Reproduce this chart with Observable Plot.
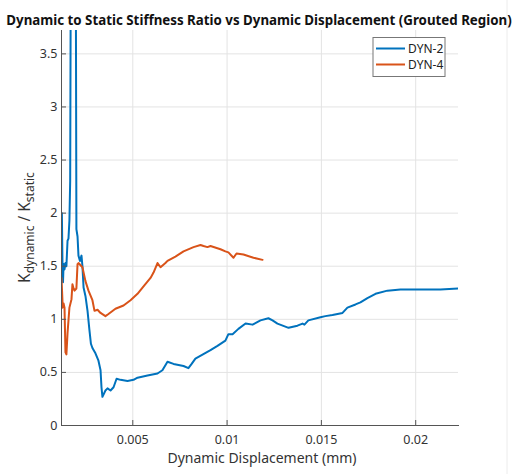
<!DOCTYPE html>
<html><head><meta charset="utf-8">
<script src="https://cdn.jsdelivr.net/npm/d3@7"></script>
<script src="https://cdn.jsdelivr.net/npm/@observablehq/plot@0.6"></script>
<style>body{margin:0;background:#fff;} svg{font-family:"Noto Sans",sans-serif;}</style>
</head><body><div id="chart"></div>
<script>
const seriesNames = ["DYN-2", "DYN-4"];
const seriesColors = ["#0072BD", "#D95319"];
const dyn2X = [0.00121,0.00124,0.00127,0.00130,0.00133,0.00138,0.00143,0.00148,0.00154,0.00159,0.00164,0.00168,0.00171,0.00180,0.00191,0.00198,0.00201,0.00207,0.00212,0.00220,0.00228,0.00233,0.00239,0.00249,0.00260,0.00270,0.00278,0.00286,0.00302,0.00318,0.00329,0.00334,0.00339,0.00355,0.00366,0.00382,0.00398,0.00414,0.00435,0.00472,0.00504,0.00525,0.00578,0.00631,0.00657,0.00684,0.00716,0.00769,0.00795,0.00812,0.00832,0.00912,0.00949,0.00991,0.01007,0.01029,0.01060,0.01098,0.01135,0.01177,0.01219,0.01241,0.01267,0.01326,0.01373,0.01400,0.01410,0.01431,0.01495,0.01521,0.01559,0.01612,0.01638,0.01681,0.01707,0.01744,0.01787,0.01850,0.01919,0.02009,0.02131,0.02227];
const dyn2Y = [1.65,2.00,1.55,1.35,1.52,1.47,1.53,1.50,1.74,1.76,1.93,2.30,4.2,6,6,4.2,1.85,1.78,1.60,1.55,1.60,1.50,1.30,1.22,1.08,0.90,0.77,0.73,0.68,0.61,0.52,0.36,0.27,0.33,0.35,0.33,0.36,0.44,0.43,0.42,0.43,0.45,0.47,0.49,0.52,0.60,0.58,0.56,0.54,0.58,0.63,0.71,0.75,0.80,0.86,0.86,0.91,0.96,0.95,0.99,1.01,0.99,0.96,0.92,0.94,0.96,0.95,0.99,1.02,1.03,1.04,1.06,1.11,1.14,1.16,1.20,1.24,1.27,1.28,1.28,1.28,1.29];
const dyn4X = [0.00122,0.00127,0.00128,0.00133,0.00138,0.00143,0.00148,0.00154,0.00159,0.00164,0.00175,0.00180,0.00186,0.00191,0.00201,0.00207,0.00212,0.00233,0.00249,0.00265,0.00286,0.00297,0.00313,0.00329,0.00355,0.00371,0.00408,0.00451,0.00488,0.00525,0.00557,0.00594,0.00610,0.00631,0.00647,0.00673,0.00684,0.00726,0.00769,0.00822,0.00859,0.00875,0.00896,0.00912,0.00965,0.00991,0.01007,0.01034,0.01050,0.01087,0.01140,0.01188];
const dyn4Y = [1.39,1.18,1.11,1.15,1.11,0.69,0.67,0.87,0.99,1.11,1.19,1.33,1.29,1.27,1.29,1.52,1.53,1.49,1.36,1.27,1.18,1.08,1.09,1.06,1.03,1.05,1.10,1.13,1.18,1.24,1.31,1.39,1.44,1.53,1.49,1.53,1.55,1.59,1.64,1.68,1.70,1.69,1.68,1.69,1.66,1.64,1.63,1.58,1.62,1.61,1.58,1.56];
const xTicks = [0.005, 0.01, 0.015, 0.02];
const xTickLabels = ["0.005", "0.01", "0.015", "0.02"];
const yTicks = [0, 0.5, 1, 1.5, 2, 2.5, 3, 3.5];
const yTickLabels = ["0", "0.5", "1", "1.5", "2", "2.5", "3", "3.5"];
const xDomain = [0.00122, 0.02227];
const yDomain = [0, 3.72];
const titleText = "Dynamic to Static Stiffness Ratio vs Dynamic Displacement (Grouted Region)";
const xLabelText = "Dynamic Displacement (mm)";

const data = [
  ...dyn2X.map((x, i) => ({x, y: dyn2Y[i], s: seriesNames[0]})),
  ...dyn4X.map((x, i) => ({x, y: dyn4Y[i], s: seriesNames[1]}))
];

const xFmt = d => xTickLabels[xTicks.findIndex(t => Math.abs(t - d) < 1e-9)];
const yFmt = d => yTickLabels[yTicks.findIndex(t => Math.abs(t - d) < 1e-9)];

const ML = 61, MR = 70, MT = 30, MB = 49, W = 528, H = 474;
const plot = Plot.plot({
  width: W, height: H, marginTop: MT, marginBottom: MB, marginLeft: ML, marginRight: MR,
  style: {fontFamily: '"Noto Sans", sans-serif', fontSize: "12px", color: "#262626", background: "#fff"},
  x: {domain: xDomain},
  y: {domain: yDomain},
  color: {domain: seriesNames, range: seriesColors},
  marks: [
    Plot.gridX(xTicks, {stroke: "#e3e3e3", strokeOpacity: 1}),
    Plot.gridY(yTicks, {stroke: "#e3e3e3", strokeOpacity: 1}),
    Plot.line(data, {x: "x", y: "y", z: "s", stroke: "s", strokeWidth: 2, clip: true}),
    Plot.frame({anchor: "bottom", stroke: "#555"}),
    Plot.frame({anchor: "left", stroke: "#555"}),
    Plot.axisX(xTicks, {tickSize: -5, tickPadding: 15, tickFormat: xFmt, label: null, stroke: "#555", fill: "#333", fontSize: 12.5}),
    Plot.axisY(yTicks, {tickSize: -5, tickPadding: 9, tickFormat: yFmt, label: null, stroke: "#555", fill: "#333", fontSize: 12.5})
  ]
});
document.getElementById("chart").appendChild(plot);

const svg = d3.select(plot);
// faint figure edge
svg.append("line").attr("x1", 507).attr("x2", 507).attr("y1", 0).attr("y2", H).attr("stroke", "#ececec");
// title, horizontally condensed to match the reference
const tg = svg.append("g");
const tt = tg.append("text").attr("x", 0).attr("y", 0).attr("text-anchor", "middle")
  .attr("font-weight", "bold").attr("font-size", 15).attr("fill", "#111").text(titleText);
const natural = tt.node().getComputedTextLength();
const sx = Math.min(1, 506 / natural);
tg.attr("transform", `translate(259,25) scale(${sx},1)`);
// x label
svg.append("text").attr("x", 262).attr("y", 463).attr("text-anchor", "middle")
  .attr("font-size", 14).attr("fill", "#333").text(xLabelText);
// y label
const yl = svg.append("text").attr("transform", `translate(30,${(MT + H - MB) / 2}) rotate(-90)`)
  .attr("text-anchor", "middle").attr("font-size", 15.5).attr("fill", "#333");
yl.append("tspan").text("K");
yl.append("tspan").attr("font-size", 12).attr("dy", 4).text("dynamic");
yl.append("tspan").attr("dy", -4).text(" / K");
yl.append("tspan").attr("font-size", 12).attr("dy", 4).text("static");
// legend
const lg = svg.append("g").attr("text-anchor", "start");
lg.append("rect").attr("x", 373).attr("y", 37.5).attr("width", 72).attr("height", 39)
  .attr("fill", "#fff").attr("stroke", "#777");
seriesNames.forEach((n, i) => {
  const yy = 48.5 + i * 16;
  lg.append("line").attr("x1", 376).attr("x2", 405).attr("y1", yy).attr("y2", yy)
    .attr("stroke", seriesColors[i]).attr("stroke-width", 2);
  lg.append("text").attr("x", 408).attr("y", yy + 4.5).attr("text-anchor", "start")
    .attr("font-size", 12).attr("fill", "#222").text(n);
});
</script></body></html>
